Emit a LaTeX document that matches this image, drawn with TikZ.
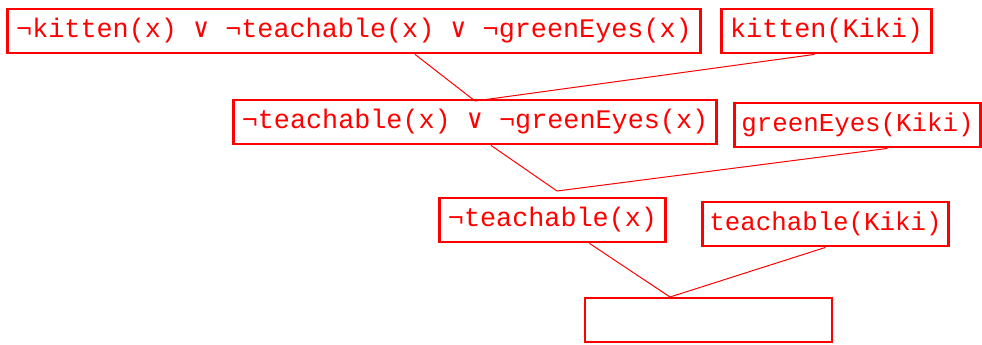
\documentclass[tikz,border=0pt]{standalone}
\usepackage{fontspec}
\newfontfamily\clausefont{Liberation Mono}
\newfontfamily\orfont{DejaVu Sans Mono}
\newcommand\orsym{{\orfont ∨}}
\tikzset{
  clause/.style={draw=red, line width=2.8pt, text=red, inner xsep=8.5pt, inner ysep=0pt,
    minimum height=44pt, font={\clausefont\fontsize{26.8}{30}\selectfont}},
  fact/.style={clause, inner xsep=6.5pt, font={\clausefont\fontsize{25.8}{30}\selectfont}},
  link/.style={draw=red, line width=1pt}
}
\begin{document}
\begin{tikzpicture}[x=1pt,y=-1pt]
    \useasboundingbox (0,0) rectangle (982,345);

    \node[clause] (A) at (354,31)   {¬kitten(x) \orsym{} ¬teachable(x) \orsym{} ¬greenEyes(x)};
    \node[clause] (B) at (826.5,31) {kitten(Kiki)};

    \node[clause] (C) at (475,122)  {¬teachable(x) \orsym{} ¬greenEyes(x)};
    \node[fact]   (D) at (857.5,125) {greenEyes(Kiki)};

    \node[clause] (E) at (552.5,220) {¬teachable(x)};
    \node[fact]   (F) at (825.5,224) {teachable(Kiki)};

    \node[clause, minimum width=247pt] (G) at (708.5,320) {};

    % join points of the resolution steps
    \coordinate (j1) at (475,101);
    \coordinate (j2) at (557,191);
    \coordinate (j3) at (670,297);

    \foreach \from/\dx/\to in
      {A/61/j1, B/-12/j1,
       C/16/j2, D/30/j2,
       E/37/j3, F/0/j3}
    \draw[link] ([xshift=\dx]\from.south) -- (\to);
\end{tikzpicture}
\end{document}
